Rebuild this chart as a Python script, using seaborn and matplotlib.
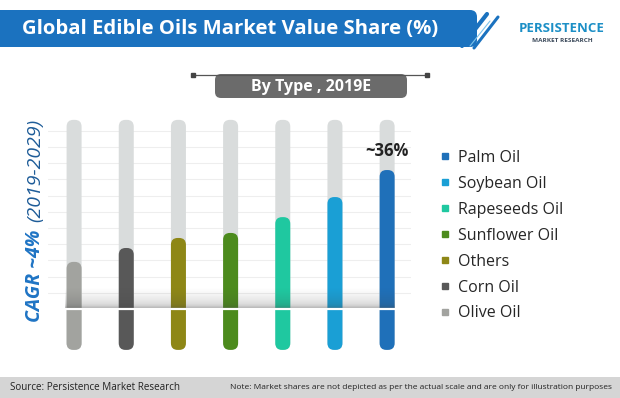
import numpy as np
import pandas as pd
import matplotlib
matplotlib.use("Agg")
import matplotlib.pyplot as plt
import seaborn as sns
from matplotlib.patches import FancyBboxPatch, Rectangle
from matplotlib.lines import Line2D

# Datos (orden de izquierda a derecha)
aceites = ['Olive Oil', 'Corn Oil', 'Others', 'Sunflower Oil', 'Rapeseeds Oil', 'Soybean Oil', 'Palm Oil']
participacion = [12.2, 15.8, 18.4, 19.7, 23.8, 29.0, 36.0]
colores = ['#a2a39f', '#585858', '#8e8716', '#4c8b1d', '#1fc8a0', '#1a9fd5', '#1f70b9']
etiqueta_max = '~36%'

titulo = 'Global Edible Oils Market Value Share (%)'
subtitulo = 'By Type , 2019E'
fuente = 'Source: Persistence Market Research'
nota = 'Note: Market shares are not depicted as per the actual scale and are only for illustration purposes'

# Estilo
TOPE = 49.0      # altura de las barras grises de fondo
BASE = -10.6     # parte de la barra bajo la linea base
ANCHO = 0.2875
GRIS = '#d9dcdc'

sns.set_theme(style='white')
plt.rcParams['font.family'] = ['Open Sans', 'DejaVu Sans']

W, H = 620, 398
fig = plt.figure(figsize=(6.2, 3.98), dpi=100)

# Capa de fondo en coordenadas de pixel
bg = fig.add_axes([0, 0, 1, 1], zorder=0)
bg.set_xlim(0, W)
bg.set_ylim(H, 0)
bg.set_axis_off()

# Grafico de barras
ax = fig.add_axes([48 / W, (H - 352.2) / H, 362.6 / W, 236.2 / H], zorder=1)
df = pd.DataFrame({'Aceite': aceites, 'Participacion': participacion})

sns.barplot(x=aceites, y=[TOPE] * len(aceites), color=GRIS, width=ANCHO,
            saturation=1, ax=ax)
sns.barplot(data=df, x='Aceite', y='Participacion', hue='Aceite', palette=colores,
            width=ANCHO, saturation=1, legend=False, ax=ax)

ax.set_xlim(-0.5, 6.45)
ax.set_ylim(-11.2, 50)
ax.set_axis_off()

# barras con esquinas redondeadas
p0, p1 = ax.transData.transform([(0, 0), (1, 1)])
sx, sy = p1 - p0
aspecto = sx / sy
for rect in list(ax.patches):
    x0, w = rect.get_x(), rect.get_width()
    tope = rect.get_y() + rect.get_height()
    nueva = FancyBboxPatch((x0, BASE), w, tope - BASE,
                           boxstyle=f'round,pad=0,rounding_size={w * 0.45}',
                           mutation_aspect=aspecto, facecolor=rect.get_facecolor(),
                           edgecolor='none', zorder=2)
    rect.remove()
    ax.add_patch(nueva)

# lineas de fondo muy tenues
for yy in np.arange(4.2, 50, 4.2):
    ax.axhline(yy, color='#eeeeee', lw=0.8, zorder=0)

# sombra sobre la linea base
t = np.linspace(0, 1, 60)
alfa = 0.24 * t ** 1.3 + 0.35 * t ** 12
grad = np.zeros((60, 1, 4))
grad[..., 0:3] = 0.25
grad[:, 0, 3] = alfa
ax.imshow(grad, extent=(-0.17, 6.15, 0, 5.7), aspect='auto', origin='upper', zorder=3)
ax.hlines(0, -0.17, 6.15, color='white', lw=1.6, zorder=4)
ax.set_xlim(-0.5, 6.45)
ax.set_ylim(-11.2, 50)

ax.text(6, participacion[-1] + 2.6, etiqueta_max, ha='center', va='bottom',
        fontsize=12, fontweight='bold', color='#222222', zorder=5)

# Banda de titulo
bg.add_patch(FancyBboxPatch((-10, 10), 487, 37, boxstyle='round,pad=0,rounding_size=7',
                            facecolor='#1b72bf', edgecolor='none'))
bg.text(22, 29, titulo, color='white', fontsize=14.6, fontweight='bold', va='center', ha='left')
bg.plot([462, 487], [46, 14], color='#1b72bf', lw=3, solid_capstyle='round')
bg.plot([474, 498], [48, 17], color='#1b72bf', lw=2.2, solid_capstyle='round')
bg.plot([470, 490], [46, 21], color='#7fc3ea', lw=0.8)

# Logo
bg.text(562, 28, 'PERSISTENCE', ha='center', va='center', fontsize=9.5,
        color='#1c8fc6', fontweight='bold')
bg.text(562, 40, 'MARKET RESEARCH', ha='center', va='center', fontsize=4.6,
        color='#3d4b5c', fontweight='bold')

# Subtitulo
bg.plot([193, 427], [75, 75], color='#555555', lw=0.9)
bg.plot([193, 427], [75, 75], 's', ms=3.5, color='#444444')
bg.add_patch(FancyBboxPatch((215, 74), 192, 24, boxstyle='round,pad=0,rounding_size=6',
                            facecolor='#6b6b6b', edgecolor='none'))
bg.text(311, 87, subtitulo, color='white', fontsize=11.5, fontweight='bold',
        ha='center', va='center')

# Texto vertical CAGR
bg.text(35, 276, 'CAGR ~4%', rotation=90, ha='center', va='center', fontsize=14,
        fontweight='bold', fontstyle='italic', color='#1f74c4')
bg.text(35, 170, '(2019-2029)', rotation=90, ha='center', va='center', fontsize=14,
        fontstyle='italic', color='#1e5c98')

# Leyenda
orden = list(reversed(range(len(aceites))))
manejadores = [Line2D([], [], marker='s', ls='', color=colores[i], ms=5) for i in orden]
fig.legend(manejadores, [aceites[i] for i in orden], loc='upper left',
           bbox_to_anchor=(439 / W, 1 - 150 / H), frameon=False, fontsize=11.5,
           handlelength=0.8, handletextpad=0.4, labelspacing=0.62,
           borderpad=0, borderaxespad=0)

# Pie
bg.add_patch(Rectangle((0, 377), W, 21, facecolor='#d5d5d5', edgecolor='none'))
bg.text(10, 387.5, fuente, fontsize=7.1, va='center', ha='left', color='#222222')
bg.text(230, 387.5, nota, fontsize=6, va='center', ha='left', color='#222222')

fig.savefig('out.png', dpi=100)
